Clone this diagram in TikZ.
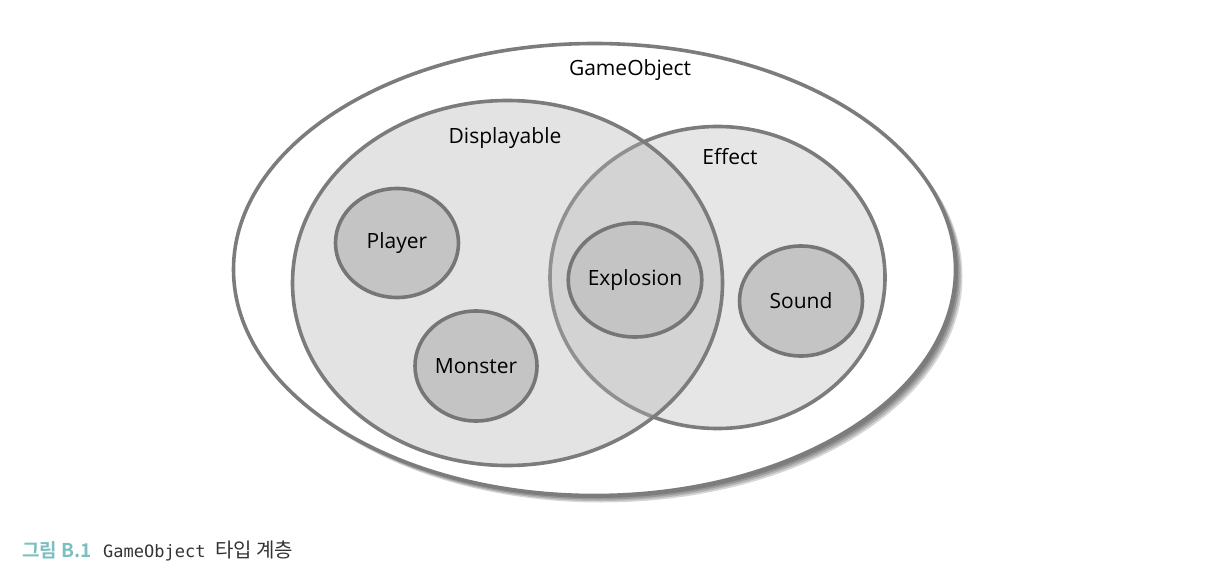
\documentclass[tikz,border=0pt]{standalone}
\usepackage{fontspec}
\setmainfont{Open Sans}
\newfontfamily\kr{Noto Sans CJK KR}
\newfontfamily\krb{Noto Sans CJK KR Bold}
\newfontfamily\monofont{DejaVu Sans Mono}
\usetikzlibrary{shapes.geometric,shadows}
\definecolor{edge}{HTML}{7C7C7C}
\definecolor{efffill}{HTML}{E6E6E6}
\definecolor{dispfill}{HTML}{B4B4B4}
\definecolor{itemfill}{HTML}{C4C4C4}
\definecolor{teal}{HTML}{7CBFC0}
\tikzset{
  setshape/.style={ellipse, draw=edge, line width=3.6pt, inner sep=0pt},
  itemshape/.style={ellipse, draw=edge!95!black, line width=3.6pt, fill=itemfill, inner sep=0pt, font=\fontsize{21}{24}\selectfont},
  lbl/.style={font=\fontsize{21}{24}\selectfont, inner sep=0pt},
  softshadow/.style={drop shadow={shadow xshift=#1pt, shadow yshift=-#1pt, opacity=0.16, fill=black}},
}
\begin{document}
\begin{tikzpicture}[x=1pt,y=-1pt]
\useasboundingbox (0,0) rectangle (1206,588);
% outer
\node[setshape, fill=white, minimum width=722pt, minimum height=452pt,
  softshadow=7, softshadow=5.5, softshadow=4, softshadow=2.5] (game) at (594.5,269.5) {};
\node[setshape, fill=efffill, minimum width=335pt, minimum height=302pt] (eff) at (717.5,277.5) {};
\node[ellipse, inner sep=0pt, fill=dispfill, fill opacity=0.36, minimum width=430pt, minimum height=365pt] (dispbg) at (507.5,283) {};
\node[setshape, minimum width=430pt, minimum height=365pt] (disp) at (507.5,283) {};
\node[lbl] (gol) at (630,70) {GameObject};
\node[lbl] (dl) at (505,138) {Displayable};
\node[lbl] (el) at (730,157) {Effect};
\node[itemshape, minimum width=123pt, minimum height=109pt] (player) at (397,243) {Player};
\node[itemshape, minimum width=122pt, minimum height=110pt] (monster) at (476,366) {Monster};
\node[itemshape, minimum width=122pt, minimum height=114pt] (explosion) at (635,280) {Explosion};
\node[itemshape, minimum width=123pt, minimum height=110pt] (sound) at (801,301) {Sound};
% caption
\node[anchor=base west, inner sep=0pt, text=teal, font=\krb\fontsize{19}{22}\selectfont] (cap1) at (22,557) {그림 B.1};
\node[anchor=base west, inner sep=0pt, font=\monofont\fontsize{17}{20}\selectfont, text=black!80] (cap2) at (103,557) {GameObject};
\node[anchor=base west, inner sep=0pt, font=\kr\fontsize{20}{24}\selectfont, text=black!80] (cap3) at (215,557) {타입 계층};
\end{tikzpicture}
\end{document}
